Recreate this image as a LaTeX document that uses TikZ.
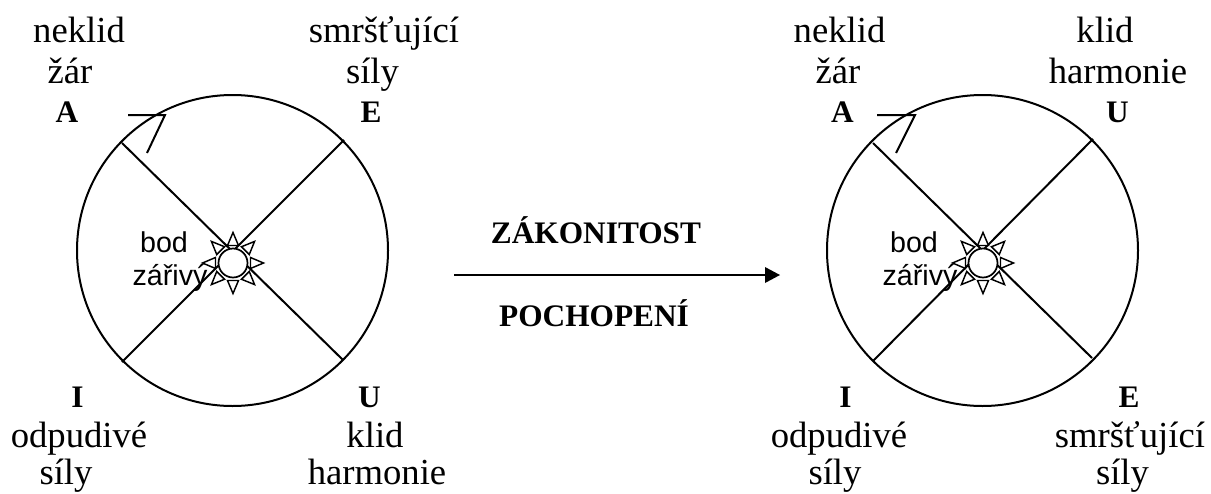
\documentclass[tikz,border=0pt]{standalone}
\usepackage{fontspec}
\setmainfont{Liberation Serif}
\newfontfamily\labelsans{Liberation Sans}
\tikzset{
  lbl/.style={inner sep=0pt,font=\fontsize{27.5}{32}\selectfont,anchor=base},
  bold/.style={lbl,font=\fontsize{23.5}{28}\selectfont\bfseries},
  sanslbl/.style={inner sep=0pt,anchor=base,font=\labelsans\fontsize{21.5}{25}\selectfont},
  ln/.style={line width=1.5pt,draw=black},
  ray/.style={line width=1.1pt,draw=black,fill=white,line join=miter},
}
\newcommand{\sunrays}[2]{%
  \foreach \a in {0,45,...,315}{
    \begin{scope}[shift={(#1,#2)},rotate=\a]
      \draw[ray] (17.5,-5.5) -- (30.5,0) -- (17.5,5.5) -- cycle;
    \end{scope}
  }
  \draw[ray,line width=1.3pt] (#1,#2) circle (14.5);
}
\begin{document}
\begin{tikzpicture}[x=0.75pt,y=-0.75pt]
\useasboundingbox (0,0) rectangle (1211,493);
\fill[white] (0,0) rectangle (1211,493);

% left wheel
\coordinate (LC) at (232.5,250.5);
\draw[ln] (LC) circle (155.5);
\coordinate (L1) at (122,143);
\coordinate (L2) at (344,140);
\coordinate (L3) at (122,362);
\coordinate (L4) at (343,360);
\draw[ln] (L1) -- (L4);
\draw[ln] (L2) -- (L3);
\sunrays{233}{263}
\coordinate (LA1) at (128,115);
\coordinate (LA2) at (165,115);
\coordinate (LA3) at (147,153);
\draw[ln] (LA1) -- (LA2) -- (LA3);
\node[sanslbl] (lb1) at (164,252) {bod};
\node[sanslbl] (lb2) at (170,285) {zářivý};

\node[lbl] (l1) at (79,42) {neklid};
\node[lbl] (l2) at (70,83) {žár};
\node[bold] (lA) at (67,122) {A};
\node[lbl] (l3) at (384,42) {smršťující};
\node[lbl] (l4) at (372.5,83) {síly};
\node[bold] (lE) at (371,122) {E};
\node[bold] (lI) at (77.5,407) {I};
\node[lbl] (l5) at (79,447) {odpudivé};
\node[lbl] (l6) at (66,484.5) {síly};
\node[bold] (lU) at (369.5,407) {U};
\node[lbl] (l7) at (375,447) {klid};
\node[lbl] (l8) at (377,484.5) {harmonie};

% arrow
\node[bold] (z) at (596,243) {ZÁKONITOST};
\node[bold] (p) at (594,326) {POCHOPENÍ};
\coordinate (a1) at (454,275);
\coordinate (a2) at (780,275);
\draw[line width=1.5pt] (a1) -- (766,275);
\fill (a2) -- (765,267) -- (765,283) -- cycle;

% right wheel
\coordinate (RC) at (982.5,250.5);
\draw[ln] (RC) circle (155.5);
\coordinate (R1) at (873,143);
\coordinate (R2) at (1093,139);
\coordinate (R3) at (873,361);
\coordinate (R4) at (1092,358);
\draw[ln] (R1) -- (R4);
\draw[ln] (R2) -- (R3);
\sunrays{983}{263}
\coordinate (RA1) at (877,115);
\coordinate (RA2) at (915,115);
\coordinate (RA3) at (896,153);
\draw[ln] (RA1) -- (RA2) -- (RA3);
\node[sanslbl] (rb1) at (914,252) {bod};
\node[sanslbl] (rb2) at (920,285) {zářivý};

\node[lbl] (r1) at (839.5,42) {neklid};
\node[lbl] (r2) at (838,83) {žár};
\node[bold] (rA) at (842.5,122) {A};
\node[lbl] (r3) at (1105,42) {klid};
\node[lbl] (r4) at (1118,83) {harmonie};
\node[bold] (rU) at (1117.5,122) {U};
\node[bold] (rI) at (845.5,407) {I};
\node[lbl] (r5) at (839,447) {odpudivé};
\node[lbl] (r6) at (835,484.5) {síly};
\node[bold] (rE) at (1129,407) {E};
\node[lbl] (r7) at (1130,447) {smršťující};
\node[lbl] (r8) at (1122.5,484.5) {síly};
\end{tikzpicture}
\end{document}
